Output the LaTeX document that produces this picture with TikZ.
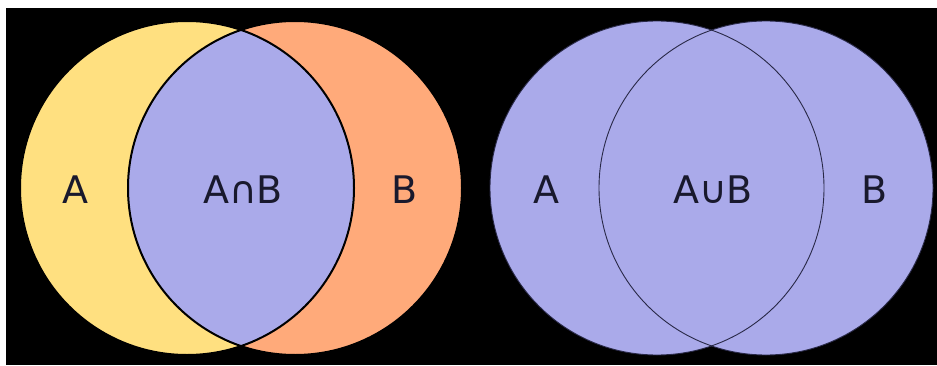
\documentclass[tikz,border=0pt]{standalone}
\usepackage{fontspec}
\setsansfont{DejaVu Sans}
\usepackage{tikz}
\usetikzlibrary{positioning}
\usepackage{xcolor}
\definecolor{ink}{RGB}{25,25,45}
\definecolor{setA}{RGB}{255,224,128}
\definecolor{setB}{RGB}{255,170,122}
\definecolor{both}{RGB}{170,170,234}
\definecolor{rim}{RGB}{40,40,70}
\tikzset{
  lbl/.style={font=\sffamily\fontsize{38}{42}\selectfont,text=ink,inner sep=0pt},
  edgeI/.style={draw=black,line width=2pt},
  edgeU/.style={draw=rim,line width=0.9pt},
}
\newcommand{\rad}{167pt}

\begin{document}
\begin{tikzpicture}[x=1pt,y=1pt]
\useasboundingbox (0,0) rectangle (937,365);
\fill[white] (0,0) rectangle (937,365);
\fill[black] (6,0) rectangle (937,357);
% centres
\coordinate (ia) at (187,177);
\coordinate (ib) at (295,177);
\coordinate (ua) at (657,177);
\coordinate (ub) at (766,177);
% intersection
\fill[setA] (ia) circle[radius=\rad];
\fill[setB] (ib) circle[radius=\rad];
\begin{scope}
  \clip (ia) circle[radius=\rad];
  \fill[both] (ib) circle[radius=\rad];
\end{scope}
\draw[edgeI] (ia) circle[radius=\rad];
\draw[edgeI] (ib) circle[radius=\rad];
% union
\fill[both] (ua) circle[radius=\rad];
\fill[both] (ub) circle[radius=\rad];
\draw[edgeU] (ua) circle[radius=\rad];
\draw[edgeU] (ub) circle[radius=\rad];
% labels
\node[lbl] (la) at (75,175) {A};
\node[lbl] (lab) at (243,175) {A∩B};
\node[lbl] (lb) at (405,175) {B};
\node[lbl] (ra) at (546,175) {A};
\node[lbl] (rab) at (713,175) {A∪B};
\node[lbl] (rb) at (875,175) {B};
\end{tikzpicture}
\end{document}
